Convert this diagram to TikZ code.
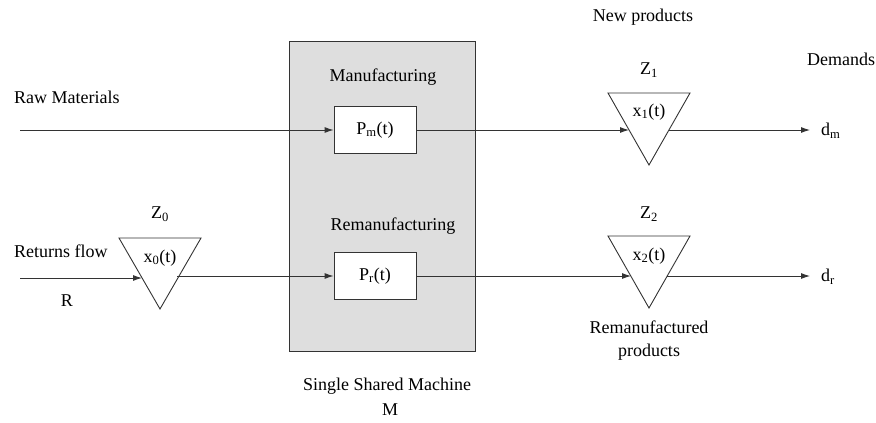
\documentclass[tikz,border=0pt]{standalone}
\usepackage{fontspec}
\setmainfont{Liberation Serif}
\newfontfamily\labelfont{Liberation Serif}
\usetikzlibrary{arrows.meta}
\definecolor{inkgray}{HTML}{333333}
\definecolor{machinefill}{HTML}{DEDEDE}
\begin{document}
\begin{tikzpicture}[x=1pt,y=-1pt,
  every node/.style={font=\labelfont\fontsize{18}{21}\selectfont, text=black, inner sep=0pt},
  flow/.style={draw=inkgray, line width=0.9pt, -{Latex[length=9pt,width=6pt]}},
  procbox/.style={draw=inkgray, line width=0.9pt, fill=white, minimum width=82pt, minimum height=47pt},
  stock/.style={draw=inkgray, line width=0.9pt, line join=miter},
  lbl/.style={align=center}]
\useasboundingbox (0,0) rectangle (876,423);

% shared machine
\fill[machinefill] (289,41) rectangle (475,351);
\draw[draw=inkgray, line width=0.9pt] (289,41) rectangle (475,351);

% processes
\node[procbox] (pm) at (375,130) {P\textsubscript{m}(t)};
\node[procbox] (pr) at (375,276) {P\textsubscript{r}(t)};
\node[lbl] (manu) at (383,77) {Manufacturing};
\node[lbl] (reman) at (393,226) {Remanufacturing};
\node[lbl] (mach) at (387,386) {Single Shared Machine};
\node[lbl] (machM) at (390,410) {M};

% inventories (inverted triangles)
\draw[stock] (119,238) -- (201,238) -- (160,309) -- cycle;
\draw[stock] (608,93) -- (690,93) -- (649,165) -- cycle;
\draw[stock] (608,236) -- (690,236) -- (649,308) -- cycle;
\coordinate (z0in) at (142,278);
\coordinate (z0out) at (177,276);
\coordinate (z1in) at (629,130);
\coordinate (z1out) at (669,130);
\coordinate (z2in) at (631,276);
\coordinate (z2out) at (667,276);
\node (z0) at (160,214) {Z\textsubscript{0}};
\node (x0) at (160,258) {x\textsubscript{0}(t)};
\node (z1) at (649,70) {Z\textsubscript{1}};
\node (x1) at (649,112) {x\textsubscript{1}(t)};
\node (z2) at (649,214) {Z\textsubscript{2}};
\node (x2) at (649,256) {x\textsubscript{2}(t)};

% sources
\node[anchor=west] (raw) at (14,97) {Raw Materials};
\node[anchor=west] (ret) at (14,251) {Returns flow};
\node (R) at (67,301) {R};
\coordinate (rawin) at (20,130);
\coordinate (retin) at (20,278);

% outputs
\node (newp) at (643,17) {New products};
\node (remp) at (649,327) {Remanufactured};
\node (remp2) at (649,352) {products};
\node (dem) at (841,59) {Demands};
\node[anchor=west] (dm) at (821,131) {d\textsubscript{m}};
\node[anchor=west] (dr) at (821,277) {d\textsubscript{r}};
\coordinate (dmend) at (810,130);
\coordinate (drend) at (810,276);

% flows
\draw[flow] (rawin) -- (pm.west);
\draw[flow] (retin) -- (z0in);
\draw[flow] (z0out) -- (pr.west);
\draw[flow] (pm.east) -- (z1in);
\draw[flow] (pr.east) -- (z2in);
\draw[flow] (z1out) -- (dmend);
\draw[flow] (z2out) -- (drend);
\end{tikzpicture}
\end{document}
